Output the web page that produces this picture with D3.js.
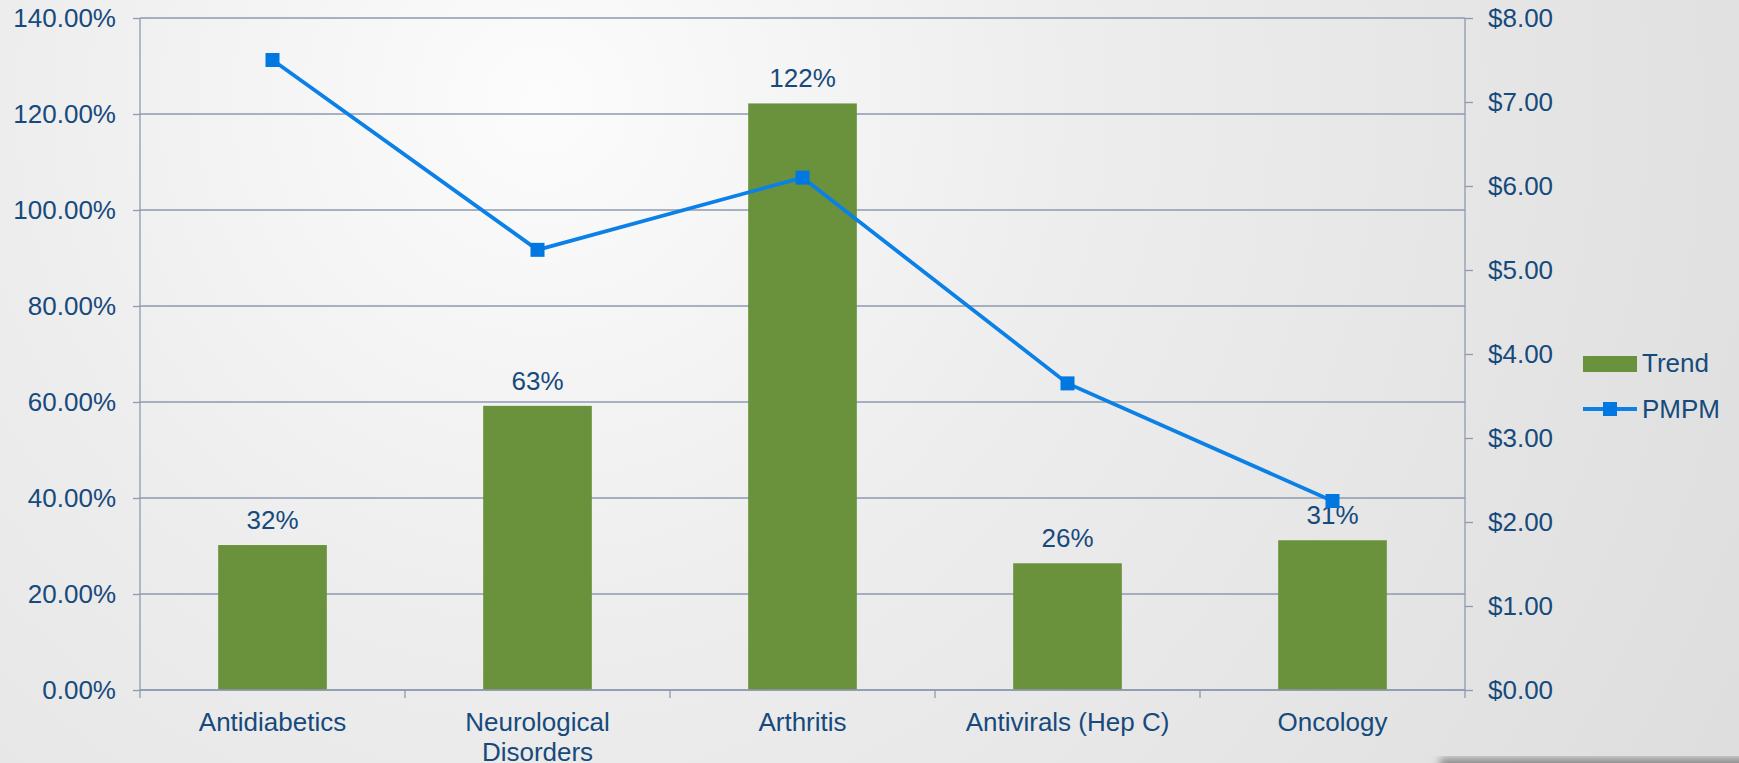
<!DOCTYPE html>
<html>
<head>
<meta charset="utf-8">
<script src="https://cdn.jsdelivr.net/npm/d3@7"></script>
<style>
  body { margin: 0; overflow: hidden; }
  svg { display: block; font-family: "Liberation Sans", Arial, sans-serif; }
  .lbl { fill: #174a7c; font-size: 26px; }
</style>
</head>
<body>
<svg width="1739" height="763"></svg>
<script>
// chart data
var categories = ["Antidiabetics", "Neurological Disorders", "Arthritis", "Antivirals (Hep C)", "Oncology"];
var trend = [30.2, 59.2, 122.2, 26.4, 31.2];          // bar heights, %
var trendLabels = ["32%", "63%", "122%", "26%", "31%"];
var pmpm = [7.50, 5.24, 6.10, 3.65, 2.25];             // $ per member per month
var leftTicks = [0, 20, 40, 60, 80, 100, 120, 140];
var rightTicks = [0, 1, 2, 3, 4, 5, 6, 7, 8];

var svg = d3.select("svg");
var W = 1739, H = 763;
var plotLeft = 140, plotRight = 1465, plotTop = 18, plotBottom = 690;

// background
var defs = svg.append("defs");
var grad = defs.append("radialGradient")
  .attr("id", "bg")
  .attr("gradientUnits", "userSpaceOnUse")
  .attr("cx", 540).attr("cy", 100).attr("r", 1350);
grad.append("stop").attr("offset", "0%").attr("stop-color", "#fcfcfc");
grad.append("stop").attr("offset", "40%").attr("stop-color", "#ededed");
grad.append("stop").attr("offset", "100%").attr("stop-color", "#dedede");
defs.append("filter").attr("id", "blur")
  .append("feGaussianBlur").attr("stdDeviation", 4);

svg.append("rect").attr("width", W).attr("height", H).attr("fill", "url(#bg)");
svg.append("rect")
  .attr("x", 1440).attr("y", 758).attr("width", 320).attr("height", 14)
  .attr("fill", "#8a8a8a").attr("filter", "url(#blur)");

var x = d3.scaleBand().domain(categories).range([plotLeft, plotRight]).padding(0);
var yL = d3.scaleLinear().domain([0, 140]).range([plotBottom, plotTop]);
var yR = d3.scaleLinear().domain([0, 8]).range([plotBottom, plotTop]);
var barW = x.bandwidth() * 0.41;

var axisColor = "#8e9ab0";

// gridlines
svg.append("g").selectAll("line")
  .data(leftTicks)
  .enter().append("line")
  .attr("x1", plotLeft).attr("x2", plotRight)
  .attr("y1", d => yL(d)).attr("y2", d => yL(d))
  .attr("stroke", axisColor).attr("stroke-width", 1.3);

// bars
svg.append("g").selectAll("rect")
  .data(trend)
  .enter().append("rect")
  .attr("x", (d, i) => x(categories[i]) + (x.bandwidth() - barW) / 2)
  .attr("y", d => yL(d))
  .attr("width", barW)
  .attr("height", d => yL(0) - yL(d))
  .attr("fill", "#6a913c");

// bar labels
svg.append("g").selectAll("text")
  .data(trend)
  .enter().append("text")
  .attr("class", "lbl")
  .attr("text-anchor", "middle")
  .attr("x", (d, i) => x(categories[i]) + x.bandwidth() / 2)
  .attr("y", d => yL(d) - 16)
  .text((d, i) => trendLabels[i]);

// left axis
var gL = svg.append("g").attr("transform", "translate(" + plotLeft + ",0)")
  .call(d3.axisLeft(yL).tickValues(leftTicks).tickSize(7).tickPadding(17)
    .tickFormat(d => d3.format(".2f")(d) + "%"));
// right axis
var gR = svg.append("g").attr("transform", "translate(" + plotRight + ",0)")
  .call(d3.axisRight(yR).tickValues(rightTicks).tickSize(8).tickPadding(15)
    .tickFormat(d => "$" + d3.format(".2f")(d)));
// category axis
var gX = svg.append("g").attr("transform", "translate(0," + plotBottom + ")")
  .call(d3.axisBottom(x).tickSize(0).tickPadding(23));

[gL, gR, gX].forEach(function(g) {
  g.select(".domain").remove();
  g.selectAll("line").attr("stroke", axisColor).attr("stroke-width", 1.3);
  g.selectAll("text").attr("class", "lbl").attr("fill", null)
    .style("font-size", "26px").style("font-family", "'Liberation Sans', Arial, sans-serif");
});
gL.append("line").attr("y1", plotTop).attr("y2", plotBottom + 8)
  .attr("stroke", axisColor).attr("stroke-width", 1.3);
gR.append("line").attr("y1", plotTop).attr("y2", plotBottom + 8)
  .attr("stroke", axisColor).attr("stroke-width", 1.3);
gX.append("line").attr("x1", plotLeft).attr("x2", plotRight)
  .attr("stroke", axisColor).attr("stroke-width", 1.3);
gX.selectAll(".sep")
  .data(categories.slice(1))
  .enter().append("line")
  .attr("x1", d => x(d)).attr("x2", d => x(d))
  .attr("y1", 0).attr("y2", 8)
  .attr("stroke", axisColor).attr("stroke-width", 1.3);

// wrap long category names
gX.selectAll(".tick text").each(function(d) {
  var t = d3.select(this);
  if (this.getComputedTextLength() > x.bandwidth() - 20) {
    var words = d.split(" ");
    t.text(null);
    words.forEach(function(w, i) {
      t.append("tspan").attr("x", 0).attr("dy", i === 0 ? "0.71em" : "1.13em").text(w);
    });
    t.attr("dy", null);
  }
});

// PMPM line
var line = d3.line()
  .x((d, i) => x(categories[i]) + x.bandwidth() / 2)
  .y(d => yR(d));
svg.append("path")
  .datum(pmpm)
  .attr("d", line)
  .attr("fill", "none")
  .attr("stroke", "#0b80e6")
  .attr("stroke-width", 3.8);
svg.append("g").selectAll("rect")
  .data(pmpm)
  .enter().append("rect")
  .attr("x", (d, i) => x(categories[i]) + x.bandwidth() / 2 - 7)
  .attr("y", d => yR(d) - 7)
  .attr("width", 14).attr("height", 14)
  .attr("fill", "#0078e0");

// legend
var lg = svg.append("g").attr("transform", "translate(1583,0)");
lg.append("rect").attr("x", 0).attr("y", 356).attr("width", 54).attr("height", 16).attr("fill", "#6a913c");
lg.append("text").attr("class", "lbl").attr("x", 59).attr("y", 372).text("Trend");
lg.append("line").attr("x1", 0).attr("x2", 54).attr("y1", 409).attr("y2", 409)
  .attr("stroke", "#0b80e6").attr("stroke-width", 3.8);
lg.append("rect").attr("x", 20).attr("y", 402).attr("width", 14).attr("height", 14).attr("fill", "#0078e0");
lg.append("text").attr("class", "lbl").attr("x", 59).attr("y", 418).text("PMPM");
</script>
</body>
</html>
